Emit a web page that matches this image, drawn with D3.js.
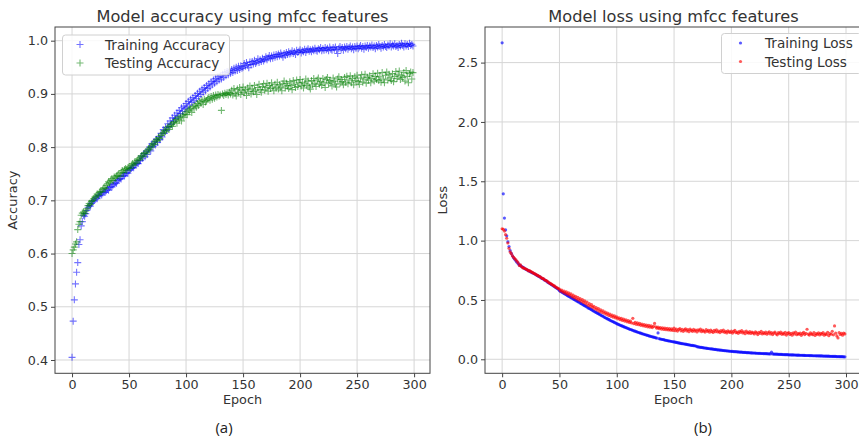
<!DOCTYPE html>
<html>
<head>
<meta charset="utf-8">
<script src="https://cdn.jsdelivr.net/npm/d3@7"></script>
<style>
  body { margin: 0; background: #fff; }
  svg { display: block; font-family: "DejaVu Sans", sans-serif; }
</style>
</head>
<body>
<svg id="chart" width="859" height="440"></svg>
<script>
var epochTicks = [0, 50, 100, 150, 200, 250, 300];
var accTicks = [0.4, 0.5, 0.6, 0.7, 0.8, 0.9, 1.0];
var lossTicks = [0.0, 0.5, 1.0, 1.5, 2.0, 2.5];

// one value per epoch (0..299)
var trainAcc = [
  0.405,0.473,0.513,0.543,0.565,0.583,0.617,0.626,0.652,0.660,
  0.672,0.670,0.675,0.681,0.686,0.690,0.689,0.694,0.697,0.699,
  0.701,0.705,0.703,0.708,0.709,0.712,0.710,0.714,0.716,0.715,
  0.718,0.721,0.719,0.724,0.726,0.725,0.729,0.731,0.733,0.732,
  0.737,0.739,0.741,0.740,0.745,0.747,0.746,0.750,0.752,0.751,
  0.756,0.758,0.760,0.762,0.761,0.766,0.768,0.770,0.769,0.774,
  0.775,0.783,0.779,0.788,0.782,0.791,0.786,0.795,0.800,0.793,
  0.806,0.801,0.810,0.804,0.815,0.809,0.820,0.814,0.826,0.819,
  0.833,0.826,0.837,0.831,0.844,0.838,0.849,0.843,0.855,0.849,
  0.860,0.854,0.864,0.858,0.869,0.863,0.874,0.867,0.877,0.872,
  0.882,0.875,0.886,0.879,0.890,0.884,0.893,0.887,0.897,0.891,
  0.901,0.895,0.905,0.899,0.909,0.903,0.912,0.906,0.916,0.910,
  0.919,0.913,0.923,0.917,0.926,0.920,0.929,0.923,0.932,0.926,
  0.934,0.928,0.937,0.931,0.940,0.934,0.942,0.936,0.944,0.939,
  0.946,0.940,0.948,0.943,0.950,0.944,0.952,0.946,0.953,0.948,
  0.950,0.957,0.952,0.959,0.954,0.949,0.960,0.955,0.961,0.956,
  0.963,0.957,0.960,0.966,0.959,0.964,0.961,0.967,0.962,0.965,
  0.970,0.964,0.968,0.972,0.966,0.971,0.967,0.973,0.969,0.974,
  0.970,0.975,0.971,0.977,0.973,0.969,0.976,0.972,0.978,0.974,
  0.979,0.975,0.977,0.981,0.976,0.979,0.974,0.982,0.978,0.980,
  0.983,0.977,0.981,0.979,0.984,0.978,0.982,0.985,0.980,0.983,
  0.979,0.984,0.981,0.986,0.982,0.980,0.985,0.983,0.987,0.981,
  0.985,0.982,0.987,0.983,0.986,0.981,0.988,0.984,0.982,0.987,
  0.984,0.988,0.983,0.976,0.986,0.989,0.984,0.987,0.982,0.988,
  0.985,0.989,0.984,0.987,0.990,0.985,0.988,0.983,0.989,0.986,
  0.990,0.985,0.988,0.991,0.986,0.989,0.984,0.990,0.987,0.991,
  0.986,0.990,0.988,0.992,0.987,0.990,0.985,0.991,0.988,0.993,
  0.989,0.986,0.991,0.988,0.993,0.989,0.987,0.992,0.990,0.994,
  0.988,0.992,0.990,0.994,0.989,0.991,0.987,0.993,0.990,0.995,
  0.991,0.988,0.994,0.990,0.993,0.989,0.995,0.991,0.993,0.990
];
var testAcc = [
  0.600,0.607,0.612,0.618,0.622,0.645,0.655,0.660,0.672,0.676,
  0.678,0.675,0.680,0.684,0.690,0.694,0.692,0.698,0.700,0.703,
  0.706,0.708,0.712,0.710,0.715,0.717,0.716,0.721,0.724,0.722,
  0.728,0.731,0.735,0.733,0.738,0.741,0.737,0.744,0.742,0.746,
  0.747,0.750,0.745,0.753,0.756,0.752,0.758,0.760,0.757,0.761,
  0.763,0.760,0.766,0.769,0.767,0.772,0.770,0.775,0.778,0.776,
  0.781,0.784,0.782,0.788,0.790,0.787,0.793,0.797,0.795,0.800,
  0.803,0.807,0.805,0.811,0.814,0.812,0.818,0.816,0.822,0.825,
  0.827,0.831,0.829,0.834,0.838,0.833,0.840,0.843,0.839,0.846,
  0.848,0.852,0.845,0.855,0.851,0.857,0.849,0.860,0.856,0.862,
  0.866,0.861,0.870,0.868,0.873,0.865,0.876,0.872,0.879,0.875,
  0.882,0.878,0.886,0.883,0.888,0.880,0.890,0.885,0.887,0.891,
  0.893,0.888,0.895,0.890,0.897,0.892,0.898,0.894,0.899,0.896,
  0.898,0.869,0.900,0.897,0.901,0.899,0.902,0.898,0.903,0.900,
  0.907,0.898,0.910,0.901,0.896,0.909,0.903,0.912,0.899,0.906,
  0.913,0.902,0.908,0.897,0.911,0.905,0.915,0.900,0.909,0.904,
  0.916,0.906,0.899,0.912,0.918,0.908,0.903,0.914,0.919,0.907,
  0.912,0.920,0.905,0.916,0.910,0.921,0.913,0.906,0.918,0.911,
  0.922,0.909,0.917,0.913,0.906,0.919,0.924,0.911,0.920,0.915,
  0.910,0.923,0.916,0.908,0.925,0.918,0.912,0.926,0.914,0.921,
  0.927,0.915,0.922,0.911,0.919,0.928,0.916,0.924,0.913,0.909,
  0.925,0.917,0.929,0.920,0.914,0.926,0.930,0.918,0.923,0.916,
  0.929,0.921,0.912,0.927,0.931,0.919,0.925,0.922,0.915,0.930,
  0.924,0.918,0.913,0.928,0.932,0.920,0.927,0.923,0.917,0.931,
  0.922,0.933,0.919,0.926,0.934,0.921,0.929,0.917,0.932,0.925,
  0.935,0.923,0.918,0.930,0.936,0.922,0.928,0.937,0.920,0.931,
  0.926,0.934,0.921,0.929,0.938,0.924,0.933,0.927,0.939,0.925,
  0.932,0.922,0.940,0.928,0.921,0.935,0.941,0.926,0.937,0.930,
  0.925,0.938,0.923,0.933,0.942,0.929,0.936,0.943,0.927,0.934,
  0.931,0.940,0.924,0.944,0.933,0.921,0.938,0.941,0.928,0.940
];
var trainLoss = [
  2.667,1.394,1.190,1.090,1.040,0.990,0.950,0.915,0.893,0.872,
  0.856,0.843,0.830,0.818,0.806,0.795,0.790,0.782,0.776,0.770,
  0.762,0.758,0.752,0.748,0.741,0.736,0.731,0.727,0.721,0.716,
  0.710,0.705,0.698,0.694,0.686,0.680,0.676,0.669,0.663,0.657,
  0.648,0.642,0.636,0.630,0.623,0.617,0.611,0.603,0.598,0.590,
  0.578,0.572,0.566,0.561,0.555,0.548,0.543,0.537,0.531,0.526,
  0.520,0.515,0.509,0.503,0.498,0.492,0.486,0.481,0.475,0.469,
  0.463,0.457,0.452,0.446,0.441,0.433,0.429,0.423,0.418,0.412,
  0.405,0.400,0.395,0.389,0.384,0.378,0.373,0.367,0.362,0.356,
  0.350,0.345,0.340,0.336,0.330,0.325,0.320,0.316,0.311,0.306,
  0.300,0.296,0.292,0.287,0.283,0.279,0.275,0.271,0.267,0.263,
  0.259,0.255,0.251,0.248,0.244,0.240,0.237,0.233,0.230,0.226,
  0.223,0.220,0.216,0.213,0.210,0.207,0.204,0.201,0.198,0.195,
  0.192,0.189,0.187,0.184,0.181,0.179,0.222,0.174,0.171,0.169,
  0.167,0.165,0.162,0.160,0.158,0.156,0.154,0.152,0.150,0.148,
  0.146,0.144,0.142,0.140,0.138,0.136,0.134,0.132,0.131,0.129,
  0.127,0.125,0.123,0.122,0.120,0.118,0.117,0.115,0.114,0.112,
  0.106,0.104,0.103,0.101,0.100,0.098,0.097,0.095,0.094,0.092,
  0.091,0.089,0.088,0.087,0.085,0.084,0.083,0.081,0.080,0.079,
  0.078,0.077,0.076,0.074,0.073,0.072,0.071,0.070,0.069,0.068,
  0.067,0.066,0.065,0.064,0.064,0.063,0.062,0.061,0.061,0.060,
  0.059,0.058,0.058,0.057,0.056,0.056,0.055,0.054,0.054,0.053,
  0.053,0.052,0.051,0.051,0.050,0.050,0.049,0.049,0.048,0.048,
  0.047,0.047,0.046,0.046,0.045,0.060,0.045,0.044,0.044,0.043,
  0.043,0.042,0.042,0.041,0.041,0.040,0.040,0.039,0.039,0.039,
  0.038,0.038,0.037,0.037,0.037,0.036,0.036,0.035,0.035,0.035,
  0.034,0.034,0.034,0.033,0.033,0.032,0.032,0.032,0.031,0.031,
  0.031,0.030,0.030,0.030,0.029,0.029,0.029,0.028,0.028,0.028,
  0.027,0.027,0.027,0.026,0.026,0.026,0.025,0.025,0.025,0.024,
  0.024,0.024,0.023,0.023,0.023,0.022,0.022,0.022,0.021,0.021
];
var testLoss = [
  1.100,1.095,1.080,1.050,1.020,0.980,0.935,0.905,0.890,0.872,
  0.860,0.848,0.838,0.826,0.812,0.790,0.795,0.780,0.772,0.768,
  0.765,0.758,0.754,0.745,0.748,0.738,0.735,0.728,0.722,0.718,
  0.712,0.708,0.700,0.697,0.689,0.682,0.679,0.670,0.666,0.660,
  0.652,0.644,0.640,0.633,0.628,0.620,0.616,0.607,0.602,0.596,
  0.592,0.576,0.584,0.566,0.574,0.557,0.569,0.549,0.560,0.541,
  0.551,0.528,0.540,0.519,0.531,0.508,0.522,0.500,0.511,0.489,
  0.503,0.479,0.492,0.468,0.483,0.455,0.470,0.446,0.460,0.437,
  0.446,0.424,0.436,0.415,0.428,0.404,0.417,0.396,0.409,0.388,
  0.398,0.379,0.390,0.370,0.381,0.362,0.373,0.355,0.366,0.349,
  0.357,0.341,0.350,0.334,0.344,0.327,0.338,0.322,0.333,0.316,
  0.326,0.311,0.321,0.306,0.345,0.300,0.312,0.295,0.307,0.291,
  0.302,0.286,0.297,0.282,0.293,0.278,0.289,0.274,0.285,0.271,
  0.281,0.267,0.278,0.302,0.274,0.262,0.271,0.258,0.268,0.255,
  0.266,0.252,0.263,0.249,0.260,0.247,0.258,0.245,0.256,0.243,
  0.262,0.241,0.255,0.238,0.251,0.259,0.240,0.253,0.236,0.248,
  0.257,0.239,0.250,0.233,0.254,0.244,0.236,0.252,0.238,0.247,
  0.231,0.249,0.240,0.254,0.233,0.245,0.238,0.229,0.250,0.236,
  0.243,0.228,0.247,0.235,0.226,0.244,0.233,0.249,0.230,0.238,
  0.225,0.242,0.232,0.246,0.227,0.236,0.222,0.240,0.231,0.226,
  0.238,0.221,0.233,0.244,0.224,0.230,0.219,0.236,0.227,0.241,
  0.222,0.232,0.216,0.238,0.226,0.220,0.234,0.218,0.229,0.223,
  0.214,0.231,0.222,0.208,0.227,0.219,0.235,0.213,0.224,0.217,
  0.229,0.211,0.222,0.232,0.214,0.226,0.208,0.221,0.230,0.215,
  0.206,0.224,0.217,0.229,0.210,0.220,0.212,0.227,0.204,0.218,
  0.226,0.209,0.219,0.203,0.223,0.214,0.230,0.207,0.218,0.211,
  0.221,0.202,0.216,0.227,0.208,0.219,0.253,0.212,0.204,0.222,
  0.213,0.207,0.225,0.201,0.216,0.210,0.223,0.205,0.219,0.212,
  0.224,0.203,0.215,0.209,0.228,0.199,0.217,0.211,0.236,0.206,
  0.281,0.220,0.197,0.180,0.226,0.209,0.218,0.203,0.221,0.214
];

var svg = d3.select("#chart");
var textColor = "#333";

function drawPanel(opt) {
  var x = d3.scaleLinear().domain([-14.95, 313.95]).range([opt.left, opt.right]);
  var y = d3.scaleLinear().domain(opt.yDomain).range([opt.bottom, opt.top]);
  var g = svg.append("g");
  var cx = (opt.left + opt.right) / 2;

  // grid
  g.append("g").selectAll("line").data(epochTicks).enter().append("line")
    .attr("x1", function(d){ return x(d); }).attr("x2", function(d){ return x(d); })
    .attr("y1", opt.top).attr("y2", opt.bottom)
    .attr("stroke", "#d6d6d6").attr("stroke-width", 1);
  g.append("g").selectAll("line").data(opt.yTicks).enter().append("line")
    .attr("x1", opt.left).attr("x2", opt.right)
    .attr("y1", function(d){ return y(d); }).attr("y2", function(d){ return y(d); })
    .attr("stroke", "#d6d6d6").attr("stroke-width", 1);

  // axes
  var xa = g.append("g").attr("transform", "translate(0," + opt.bottom + ")")
    .call(d3.axisBottom(x).tickValues(epochTicks).tickSize(4).tickPadding(3).tickFormat(d3.format("d")));
  var ya = g.append("g").attr("transform", "translate(" + opt.left + ",0)")
    .call(d3.axisLeft(y).tickValues(opt.yTicks).tickSize(4).tickPadding(3).tickFormat(d3.format(".1f")));
  [xa, ya].forEach(function(a){
    a.select(".domain").remove();
    a.selectAll("line").attr("stroke", "#444");
    a.selectAll("text").attr("fill", textColor).style("font-size", "12.7px").style("font-family", "DejaVu Sans");
  });

  // frame
  g.append("rect").attr("x", opt.left).attr("y", opt.top)
    .attr("width", opt.right - opt.left).attr("height", opt.bottom - opt.top)
    .attr("fill", "none").attr("stroke", "#444").attr("stroke-width", 1);

  // points
  var clipId = "clip" + opt.id;
  svg.append("clipPath").attr("id", clipId).append("rect")
    .attr("x", opt.left).attr("y", opt.top)
    .attr("width", opt.right - opt.left).attr("height", opt.bottom - opt.top);
  var pts = g.append("g").attr("clip-path", "url(#" + clipId + ")");
  opt.series.forEach(function(s){
    var sel = pts.append("g").selectAll(".mark").data(s.values).enter();
    if (opt.marker === "plus") {
      sel.append("path")
        .attr("class", "mark")
        .attr("transform", function(d, i){ return "translate(" + x(i) + "," + y(d) + ")"; })
        .attr("d", "M-3.5,0H3.5M0,-3.5V3.5")
        .attr("stroke", s.color).attr("stroke-width", 1.1).attr("fill", "none")
        .attr("opacity", 0.55);
    } else {
      sel.append("circle")
        .attr("class", "mark")
        .attr("cx", function(d, i){ return x(i); })
        .attr("cy", function(d){ return y(d); })
        .attr("r", 1.6)
        .attr("fill", s.color).attr("opacity", 0.65);
    }
  });

  // titles
  g.append("text").attr("x", cx).attr("y", 22).attr("text-anchor", "middle")
    .attr("fill", textColor).style("font-size", "16.2px").text(opt.title);
  g.append("text").attr("x", cx).attr("y", 404).attr("text-anchor", "middle")
    .attr("fill", textColor).style("font-size", "12.8px").text("Epoch");
  g.append("text").attr("transform", "translate(" + opt.yLabelX + "," + ((opt.top + opt.bottom) / 2) + ") rotate(-90)")
    .attr("text-anchor", "middle").attr("fill", textColor).style("font-size", "13px").text(opt.yLabel);
  g.append("text").attr("x", opt.capX).attr("y", 433).attr("text-anchor", "middle")
    .attr("fill", "#222").style("font-family", "Open Sans").style("font-size", "15px").text(opt.caption);

  // legend
  var lg = g.append("g");
  lg.append("rect").attr("x", opt.legX).attr("y", opt.legY)
    .attr("width", opt.legW).attr("height", 40).attr("rx", 3)
    .attr("fill", "#fff").attr("fill-opacity", 0.85).attr("stroke", "#d0d0d0");
  opt.series.forEach(function(s, i){
    var ly = opt.legY + 9.5 + i * 18.5;
    if (opt.marker === "plus") {
      lg.append("path").attr("transform", "translate(" + (opt.legX + 17.5) + "," + ly + ")")
        .attr("d", "M-3.5,0H3.5M0,-3.5V3.5").attr("stroke", s.color).attr("stroke-width", 1.1)
        .attr("fill", "none").attr("opacity", 0.55);
    } else {
      lg.append("circle").attr("cx", opt.legX + 19).attr("cy", ly).attr("r", 1.6)
        .attr("fill", s.color).attr("opacity", 0.65);
    }
    lg.append("text").attr("x", opt.legX + opt.textDx).attr("y", ly + 5)
      .attr("fill", textColor).style("font-size", "13.6px").text(s.name);
  });
}

drawPanel({
  id: "a", left: 55, right: 430, top: 27, bottom: 373.3,
  yDomain: [0.375, 1.0257], yTicks: accTicks, marker: "plus",
  title: "Model accuracy using mfcc features", yLabel: "Accuracy", yLabelX: 17,
  caption: "(a)", capX: 224,
  legX: 62.5, legY: 35, legW: 167, textDx: 42.5,
  series: [
    { name: "Training Accuracy", color: "#0000ff", values: trainAcc },
    { name: "Testing Accuracy", color: "#008000", values: testAcc }
  ]
});

drawPanel({
  id: "b", left: 485, right: 862, top: 27, bottom: 373.3,
  yDomain: [-0.118, 2.80], yTicks: lossTicks, marker: "dot",
  title: "Model loss using mfcc features", yLabel: "Loss", yLabelX: 447,
  caption: "(b)", capX: 703,
  legX: 721.5, legY: 33.5, legW: 140, textDx: 43.5,
  series: [
    { name: "Training Loss", color: "#0000ff", values: trainLoss },
    { name: "Testing Loss", color: "#ff0000", values: testLoss }
  ]
});
</script>
</body>
</html>
